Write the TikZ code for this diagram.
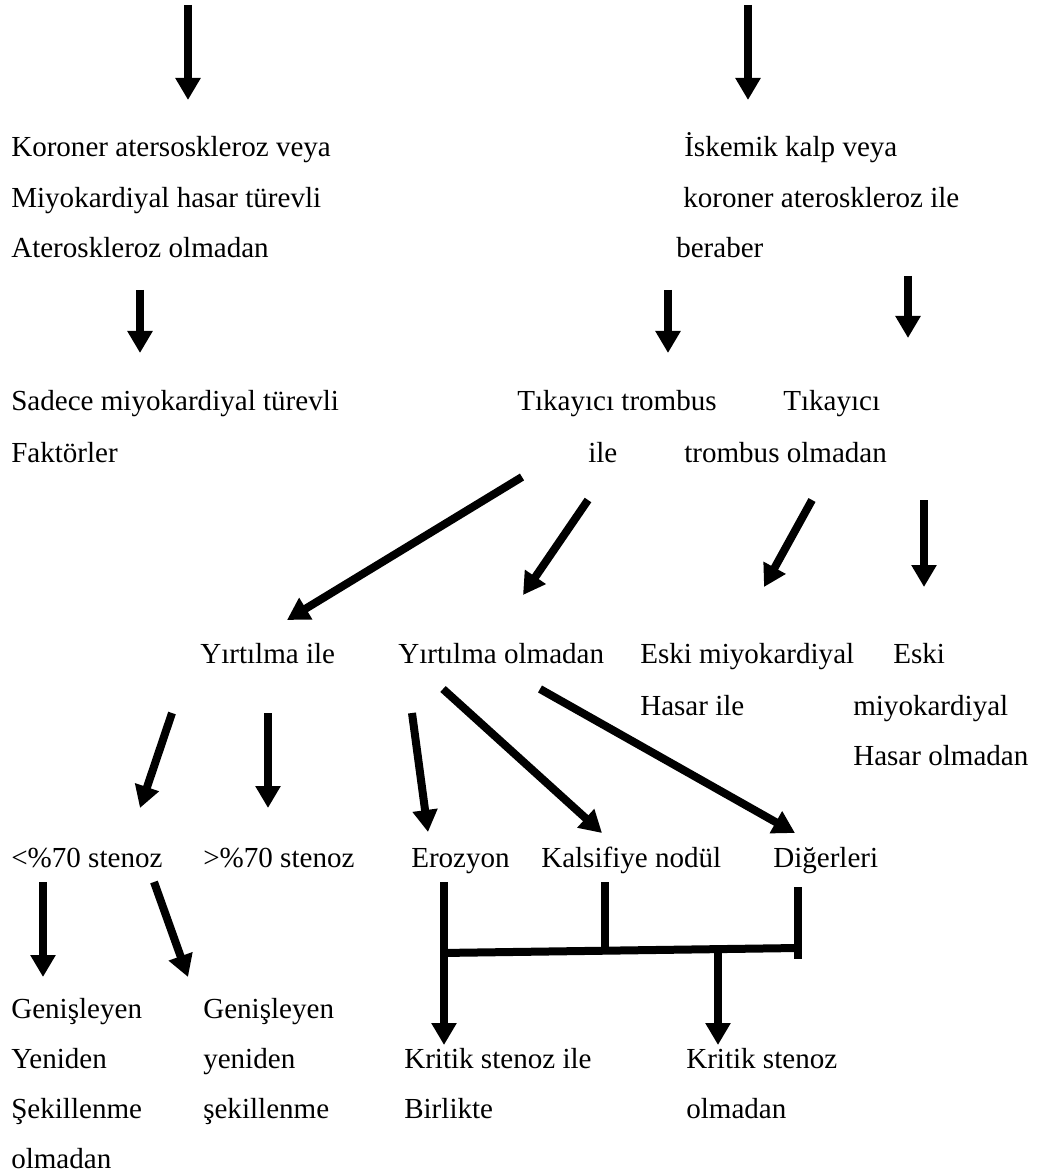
\documentclass[tikz,border=0pt]{standalone}
\usepackage{fontspec}
\setmainfont{Liberation Serif}
\usetikzlibrary{arrows.meta}
\begin{document}
\begin{tikzpicture}[x=0.75pt,y=-0.75pt,
  txt/.style={font=\fontsize{21.8}{26}\selectfont, inner sep=0pt, anchor=base west},
  arr/.style={line width=6pt, -{Triangle[length=16.5pt,width=18pt]}},
  barline/.style={line width=6pt}]
\useasboundingbox (0,0) rectangle (1038,1176);
% texts
\node[txt] (k1) at (11,157) {Koroner atersoskleroz veya};
\node[txt] (k2) at (11,208) {Miyokardiyal hasar türevli};
\node[txt] (k3) at (11,258) {Ateroskleroz olmadan};
\node[txt] (i1) at (684,157) {İskemik kalp veya};
\node[txt] (i2) at (683,208) {koroner ateroskleroz ile};
\node[txt] (i3) at (676,258) {beraber};
\node[txt] (s1) at (11,410) {Sadece miyokardiyal türevli};
\node[txt] (s2) at (11,462) {Faktörler};
\node[txt] (t1) at (517,410) {Tıkayıcı trombus};
\node[txt] (t2) at (588,462) {ile};
\node[txt] (u1) at (783,410) {Tıkayıcı};
\node[txt] (u2) at (684,462) {trombus olmadan};
\node[txt] (y1) at (200,663) {Yırtılma ile};
\node[txt] (y2) at (398,663) {Yırtılma olmadan};
\node[txt] (e1) at (640,663) {Eski miyokardiyal};
\node[txt] (e2) at (640,715) {Hasar ile};
\node[txt] (f1) at (893,663) {Eski};
\node[txt] (f2) at (853,715) {miyokardiyal};
\node[txt] (f3) at (853,765) {Hasar olmadan};
\node[txt] (n1) at (11,867) {<\%70 stenoz};
\node[txt] (n2) at (203,867) {>\%70 stenoz};
\node[txt] (n3) at (411,867) {Erozyon};
\node[txt] (n4) at (541,867) {Kalsifiye nodül};
\node[txt] (n5) at (773,867) {Diğerleri};
\node[txt] (g1) at (11,1018) {Genişleyen};
\node[txt] (g2) at (11,1068) {Yeniden};
\node[txt] (g3) at (11,1118) {Şekillenme};
\node[txt] (g4) at (11,1168) {olmadan};
\node[txt] (h1) at (203,1018) {Genişleyen};
\node[txt] (h2) at (203,1068) {yeniden};
\node[txt] (h3) at (203,1118) {şekillenme};
\node[txt] (c1) at (404,1068) {Kritik stenoz ile};
\node[txt] (c2) at (404,1118) {Birlikte};
\node[txt] (d1) at (686,1068) {Kritik stenoz};
\node[txt] (d2) at (686,1118) {olmadan};
% arrow end points
\coordinate (a1s) at (188,5);   \coordinate (a1e) at (188,100);
\coordinate (a2s) at (748,5);   \coordinate (a2e) at (748,100);
\coordinate (a3s) at (140,290); \coordinate (a3e) at (140,353);
\coordinate (a4s) at (668,290); \coordinate (a4e) at (668,353);
\coordinate (a5s) at (908,276); \coordinate (a5e) at (908,338);
\coordinate (a6s) at (522,477); \coordinate (a6e) at (287,620);
\coordinate (a7s) at (588,500); \coordinate (a7e) at (523,595);
\coordinate (a8s) at (812,500); \coordinate (a8e) at (764,587);
\coordinate (a9s) at (924,500); \coordinate (a9e) at (924,587);
\coordinate (b1s) at (172,713); \coordinate (b1e) at (140,808);
\coordinate (b2s) at (268,713); \coordinate (b2e) at (268,808);
\coordinate (b3s) at (412,713); \coordinate (b3e) at (428,832);
\coordinate (b4s) at (443,689); \coordinate (b4e) at (602,833);
\coordinate (b5s) at (540,689); \coordinate (b5e) at (795,833);
\coordinate (c1s) at (43,882);  \coordinate (c1e) at (43,977);
\coordinate (c2s) at (154,882); \coordinate (c2e) at (188,977);
\coordinate (r1s) at (444,882); \coordinate (r1e) at (444,1045);
\coordinate (r2s) at (605,882); \coordinate (r2e) at (605,951);
\coordinate (r3s) at (798,887); \coordinate (r3e) at (798,959);
\coordinate (hl) at (441,953);  \coordinate (hr) at (798,948);
\coordinate (r4s) at (718,950); \coordinate (r4e) at (718,1045);
% arrows
\foreach \p in {a1,a2,a3,a4,a5,a6,a7,a8,a9,b1,b2,b3,b4,b5,c1,c2,r1,r4}
  \draw[arr] (\p s) -- (\p e);
\draw[barline] (r2s) -- (r2e);
\draw[barline] (r3s) -- (r3e);
\draw[barline] (hl) -- (hr);
\end{tikzpicture}
\end{document}
